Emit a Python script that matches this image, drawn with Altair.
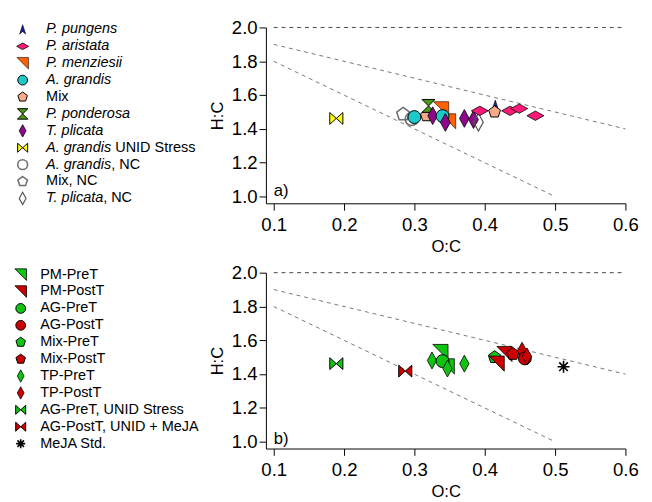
import altair as alt
import pandas as pd

FONT = "Liberation Sans"

# ---------------- data: panel a ----------------
a_series = ["A. grandis UNID Stress", "Mix, NC", "A. grandis, NC", "A. grandis", "Mix",
            "P. ponderosa", "T. plicata", "P. menziesii", "P. menziesii", "A. grandis",
            "T. plicata", "T. plicata", "T. plicata", "T. plicata, NC",
            "P. pungens", "P. aristata", "P. aristata", "P. aristata", "P. aristata", "Mix"]
a_x = [0.189, 0.284, 0.296, 0.300, 0.317,
       0.320, 0.326, 0.338, 0.348, 0.340,
       0.344, 0.371, 0.384, 0.391,
       0.415, 0.393, 0.436, 0.449, 0.472, 0.414]
a_y = [1.462, 1.487, 1.458, 1.470, 1.478,
       1.536, 1.478, 1.516, 1.445, 1.476,
       1.438, 1.462, 1.455, 1.440,
       1.540, 1.507, 1.507, 1.520, 1.478, 1.500]

# ---------------- data: panel b ----------------
b_series = ["AG-PreT, UNID Stress", "AG-PostT, UNID + MeJA", "PM-PreT", "PM-PreT",
            "TP-PreT", "AG-PreT", "TP-PreT", "TP-PreT", "Mix-PreT",
            "PM-PostT", "PM-PostT", "Mix-PostT", "TP-PostT", "AG-PostT", "TP-PostT",
            "MeJA Std."]
b_x = [0.189, 0.287, 0.337, 0.346,
       0.325, 0.340, 0.347, 0.371, 0.414,
       0.428, 0.417, 0.440, 0.453, 0.457, 0.460,
       0.512]
b_y = [1.462, 1.418, 1.531, 1.446,
       1.481, 1.477, 1.433, 1.462, 1.500,
       1.519, 1.462, 1.519, 1.538, 1.493, 1.505,
       1.444]

# legend entries: (italic part, normal part)
legend_a = [("P. pungens", ""), ("P. aristata", ""), ("P. menziesii", ""),
            ("A. grandis", ""), ("", "Mix"), ("P. ponderosa", ""), ("T. plicata", ""),
            ("A. grandis", " UNID Stress"), ("A. grandis", ", NC"), ("", "Mix, NC"),
            ("T. plicata", ", NC")]
legend_a_keys = ["P. pungens", "P. aristata", "P. menziesii", "A. grandis", "Mix",
                 "P. ponderosa", "T. plicata", "A. grandis UNID Stress", "A. grandis, NC",
                 "Mix, NC", "T. plicata, NC"]
legend_b_keys = ["PM-PreT", "PM-PostT", "AG-PreT", "AG-PostT", "Mix-PreT", "Mix-PostT",
                 "TP-PreT", "TP-PostT", "AG-PreT, UNID Stress", "AG-PostT, UNID + MeJA",
                 "MeJA Std."]

# reference lines (van Krevelen guides)
guide_x1 = [0.1, 0.1, 0.1]
guide_y1 = [2.0, 1.9, 1.8]
guide_x2 = [0.6, 0.6, 0.5]
guide_y2 = [2.0, 1.4, 1.0]
guide_col = ["#444444", "#777777", "#777777"]

x_ticks = [0.1, 0.2, 0.3, 0.4, 0.5, 0.6]
y_ticks = [1.0, 1.2, 1.4, 1.6, 1.8, 2.0]

# ---------------- styles ----------------
TRI = "M-1,-1L1,-1L1,1Z"
BOW = "M-1,-0.9L0,0L-1,0.9ZM1,-0.9L0,0L1,0.9Z"
HOUR = "M-1,-1L1,-1L0,0ZM-1,1L1,1L0,0Z"
PENT = "M0,-1L0.95,-0.31L0.59,0.81L-0.59,0.81L-0.95,-0.31Z"
DTALL = "M0,-1L0.55,0L0,1L-0.55,0Z"
DWIDE = "M-1,0L0,-0.55L1,0L0,0.55Z"
ARROW = "M0,-1L0.65,1L0,0.45L-0.65,1Z"
AST = "M0,-1L0,1M-1,0L1,0M-0.72,-0.72L0.72,0.72M-0.72,0.72L0.72,-0.72"

GREEN = "#12c412"
RED = "#cc0000"
# series: shape, fill, stroke, plot size, legend size, stroke width
style = {
    "P. pungens": (ARROW, "#1a1aa8", "#000000", 110, 90, 0.6),
    "P. aristata": (DWIDE, "#ff1a78", "#000000", 300, 150, 0.8),
    "P. menziesii": (TRI, "#ff6000", "#000000", 240, 140, 0.6),
    "A. grandis": ("circle", "#1cc8c8", "#000000", 175, 100, 1),
    "Mix": (PENT, "#f8aa8a", "#000000", 160, 105, 1),
    "P. ponderosa": (HOUR, "#4a9a14", "#000000", 175, 115, 1),
    "T. plicata": (DTALL, "#8c0a8a", "#000000", 330, 160, 0.8),
    "A. grandis UNID Stress": (BOW, "#ffff00", "#000000", 180, 105, 1),
    "A. grandis, NC": ("circle", "transparent", "#707070", 175, 100, 1.6),
    "Mix, NC": (PENT, "transparent", "#707070", 190, 105, 1.6),
    "T. plicata, NC": (DTALL, "transparent", "#555555", 330, 160, 1.2),
    "PM-PreT": (TRI, GREEN, "#000000", 240, 140, 0.8),
    "PM-PostT": (TRI, RED, "#000000", 240, 140, 0.8),
    "AG-PreT": ("circle", GREEN, "#000000", 175, 100, 1),
    "AG-PostT": ("circle", RED, "#000000", 175, 100, 1),
    "Mix-PreT": (PENT, GREEN, "#000000", 180, 105, 1),
    "Mix-PostT": (PENT, RED, "#000000", 180, 105, 1),
    "TP-PreT": (DTALL, GREEN, "#000000", 300, 160, 0.8),
    "TP-PostT": (DTALL, RED, "#000000", 300, 160, 0.8),
    "AG-PreT, UNID Stress": (BOW, GREEN, "#000000", 180, 105, 1),
    "AG-PostT, UNID + MeJA": (BOW, RED, "#000000", 180, 105, 1),
    "MeJA Std.": (AST, "transparent", "#000000", 150, 85, 1.6),
}

# Arial / Liberation Sans advance widths (per 1000 em) and a kerning pair
AW = {" ": 278, ".": 278, ",": 278, "A": 667, "g": 556, "r": 333, "a": 556, "n": 556,
      "d": 556, "i": 222, "s": 500, "T": 611, "p": 556, "l": 222, "c": 500, "t": 278}
KERN = {"T.": -111}


def text_w(s, fs):
    w = sum(AW.get(c, 556) for c in s)
    w += sum(KERN.get(s[k:k + 2], 0) for k in range(len(s) - 1))
    return w * fs / 1000.0


PLOT_W, PLOT_H = 368, 180
LEG_W = 238
LEG_FS = 14.8
ROW = 17.3

XAXIS = alt.Axis(values=x_ticks, format=".1f", title="O:C", labelFlush=False,
                 labelOverlap=False, titlePadding=4, labelPadding=6)
YAXIS = alt.Axis(values=y_ticks, format=".1f", title="H:C", labelOverlap=False,
                 labelFlush=False, titlePadding=5, labelPadding=2)


def styled(df, key, size_idx):
    df["shp"] = [style[s][0] for s in df[key]]
    df["fil"] = [style[s][1] for s in df[key]]
    df["stk"] = [style[s][2] for s in df[key]]
    df["sz"] = [style[s][size_idx] for s in df[key]]
    df["sw"] = [style[s][5] for s in df[key]]
    return df


def panel(series, xs, ys, tag, tag_y):
    df = styled(pd.DataFrame({"series": series, "x": xs, "y": ys}), "series", 3)
    xscale = alt.Scale(domain=[0.0889, 0.6], nice=False, zero=False)
    yscale = alt.Scale(domain=[0.96, 2.0], nice=False, zero=False)
    gdf = pd.DataFrame({"x1": guide_x1, "y1": guide_y1, "x2": guide_x2, "y2": guide_y2,
                        "c": guide_col})
    guides = alt.Chart(gdf).mark_rule(strokeDash=[4, 4], strokeWidth=1).encode(
        x=alt.X("x1:Q", scale=xscale, axis=XAXIS), y=alt.Y("y1:Q", scale=yscale, axis=YAXIS),
        x2="x2:Q", y2="y2:Q", color=alt.Color("c:N", scale=None, legend=None))
    pts = alt.Chart(df).mark_point(opacity=1, fillOpacity=1, strokeOpacity=1).encode(
        x=alt.X("x:Q", scale=xscale, axis=XAXIS),
        y=alt.Y("y:Q", scale=yscale, axis=YAXIS),
        shape=alt.Shape("shp:N", scale=None, legend=None),
        fill=alt.Fill("fil:N", scale=None, legend=None),
        stroke=alt.Stroke("stk:N", scale=None, legend=None),
        size=alt.Size("sz:Q", scale=None, legend=None),
        strokeWidth=alt.StrokeWidth("sw:Q", scale=None, legend=None),
    )
    tdf = pd.DataFrame({"x": [0.1], "y": [tag_y], "t": [tag]})
    lab = alt.Chart(tdf).mark_text(align="left", baseline="middle", fontSize=17, font=FONT,
                                   color="black").encode(
        x=alt.X("x:Q", scale=xscale, axis=XAXIS), y=alt.Y("y:Q", scale=yscale, axis=YAXIS),
        text="t:N")
    return alt.layer(guides, pts, lab).properties(width=PLOT_W, height=PLOT_H)


def legend(keys, labels, sym_x, txt_x):
    n = len(keys)
    nm_txt = [l[1].lstrip(" ") for l in labels]
    lead = [l[0] + l[1][: len(l[1]) - len(l[1].lstrip(" "))] for l in labels]
    df = pd.DataFrame({"i": list(range(n)), "key": keys,
                       "it": [l[0] for l in labels], "nm": nm_txt})
    df = styled(df, "key", 4)
    df["tx"] = [txt_x + text_w(s, LEG_FS) for s in lead]
    d0 = -2.0 / ROW
    d1 = d0 + PLOT_H / ROW
    ysc = alt.Scale(domain=[d0, d1], reverse=True, nice=False, zero=False)
    y = alt.Y("i:Q", scale=ysc, axis=None)
    sym = alt.Chart(df).mark_point(opacity=1, fillOpacity=1, strokeOpacity=1).encode(
        x=alt.value(sym_x), y=y,
        shape=alt.Shape("shp:N", scale=None, legend=None),
        fill=alt.Fill("fil:N", scale=None, legend=None),
        stroke=alt.Stroke("stk:N", scale=None, legend=None),
        size=alt.Size("sz:Q", scale=None, legend=None),
        strokeWidth=alt.StrokeWidth("sw:Q", scale=None, legend=None),
    )
    it = alt.Chart(df).mark_text(align="left", baseline="middle", fontSize=LEG_FS, font=FONT,
                                 fontStyle="italic", color="black").encode(
        x=alt.value(txt_x), y=y, text="it:N")
    nm = alt.Chart(df).mark_text(align="left", baseline="middle", fontSize=LEG_FS, font=FONT,
                                 color="black").encode(
        x=alt.X("tx:Q", scale=None, axis=None), y=y, text="nm:N")
    return alt.layer(sym, it, nm).properties(width=LEG_W, height=PLOT_H)


leg_a = legend(legend_a_keys, legend_a, 9, 33)
leg_b = legend(legend_b_keys, [("", k) for k in legend_b_keys], 7, 27)

row_a = alt.hconcat(leg_a, panel(a_series, a_x, a_y, "a)", 1.03), spacing=20, bounds="flush")
row_b = alt.hconcat(leg_b, panel(b_series, b_x, b_y, "b)", 1.015), spacing=20, bounds="flush")

chart = alt.vconcat(row_a, row_b, spacing=10, background="white", padding=5).configure_view(
    stroke=None
).configure_axis(
    grid=False, domainColor="black", domainWidth=1, tickColor="black", tickSize=7,
    labelColor="black", titleColor="black", labelFont=FONT, titleFont=FONT,
    labelFontSize=19, titleFontSize=17, titleFontWeight="normal",
)

chart.save("out.html", embed_options={"renderer": "svg", "actions": False})
